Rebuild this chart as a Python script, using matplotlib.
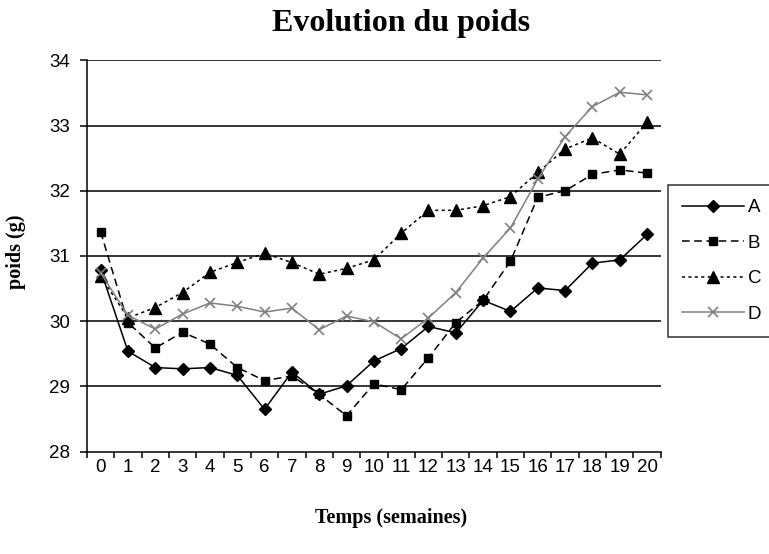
import matplotlib.pyplot as plt
from matplotlib.ticker import FixedLocator, NullFormatter

semaines = list(range(21))

poids_A = [30.78, 29.54, 29.29, 29.27, 29.29, 29.17, 28.65, 29.22, 28.88, 29.01, 29.39,
           29.58, 29.92, 29.82, 30.32, 30.15, 30.51, 30.47, 30.89, 30.94, 31.33]
poids_B = [31.37, 29.98, 29.59, 29.83, 29.65, 29.29, 29.09, 29.16, 28.88, 28.55, 29.04,
           28.95, 29.44, 29.98, 30.32, 30.92, 31.90, 32.00, 32.25, 32.32, 32.27]
poids_C = [30.69, 30.05, 30.21, 30.44, 30.75, 30.90, 31.04, 30.90, 30.72, 30.81, 30.94,
           31.35, 31.70, 31.70, 31.77, 31.91, 32.28, 32.64, 32.81, 32.56, 33.05]
poids_D = [30.74, 30.09, 29.88, 30.11, 30.28, 30.23, 30.14, 30.20, 29.87, 30.08, 29.99,
           29.73, 30.05, 30.44, 30.97, 31.43, 32.18, 32.83, 33.29, 33.51, 33.47]

y_ticks = [28, 29, 30, 31, 32, 33, 34]

fig = plt.figure(figsize=(7.69, 5.54), dpi=100)
ax = fig.add_axes([0.1131, 0.1847, 0.7461, 0.7065])

sans = 'Liberation Sans'
serif = 'Liberation Serif'
fs = 13.5

# lignes horizontales de la grille
for y in y_ticks[1:]:
    ax.axhline(y, color='black', lw=1.1, zorder=1)

lw = 1.1
ax.plot(semaines, poids_A, color='black', lw=lw, marker='D', ms=6.5, label='A', zorder=3)
ax.plot(semaines, poids_B, color='black', lw=lw, marker='s', ms=6.2, dashes=(5, 3), label='B', zorder=3)
ax.plot(semaines, poids_C, color='black', lw=lw, marker='^', ms=8, dashes=(2, 2.2), label='C', zorder=3)
ax.plot(semaines, poids_D, color='#808080', lw=lw, marker='x', ms=6.5, mew=1.2, label='D', zorder=3)

ax.set_xlim(-0.5, 20.5)
ax.set_ylim(28, 34)

# graduations entre les catégories, étiquettes au centre
ax.xaxis.set_major_locator(FixedLocator(semaines))
ax.set_xticklabels([str(s) for s in semaines], fontsize=fs, fontfamily=sans)
ax.tick_params(axis='x', which='major', length=0, pad=5)
ax.xaxis.set_minor_locator(FixedLocator([s - 0.5 for s in semaines] + [20.5]))
ax.xaxis.set_minor_formatter(NullFormatter())
ax.tick_params(axis='x', which='minor', length=4, width=1.1, direction='out')

ax.set_yticks(y_ticks)
ax.set_yticklabels([str(v) for v in y_ticks], fontsize=fs, fontfamily=sans)
ax.tick_params(axis='y', length=5, width=1.1, direction='out', pad=7)

for side in ['top', 'right']:
    ax.spines[side].set_visible(False)
for side in ['left', 'bottom']:
    ax.spines[side].set_linewidth(1.1)

fig.text(0.522, 1 - 31 / 554, 'Evolution du poids', fontsize=23, fontweight='bold',
         fontfamily=serif, ha='center', va='baseline')
fig.text(16 / 769, 1 - 251.5 / 554, 'poids (g)', fontsize=14.5, fontweight='bold',
         fontfamily=serif, rotation=90, ha='center', va='center')
fig.text(391 / 769, 1 - 518 / 554, 'Temps (semaines)', fontsize=14.5, fontweight='bold',
         fontfamily=serif, ha='center', va='center')

leg = fig.legend(loc='upper left', bbox_to_anchor=(668 / 769, 1 - 185 / 554),
                 bbox_transform=fig.transFigure, frameon=True, fancybox=False,
                 prop={'family': sans, 'size': fs}, handlelength=3.3,
                 handletextpad=0.2, labelspacing=0.98, borderpad=0.75,
                 borderaxespad=0, numpoints=1)
leg.get_frame().set_edgecolor('black')
leg.get_frame().set_linewidth(1.1)

fig.savefig('out.png', dpi=100)
